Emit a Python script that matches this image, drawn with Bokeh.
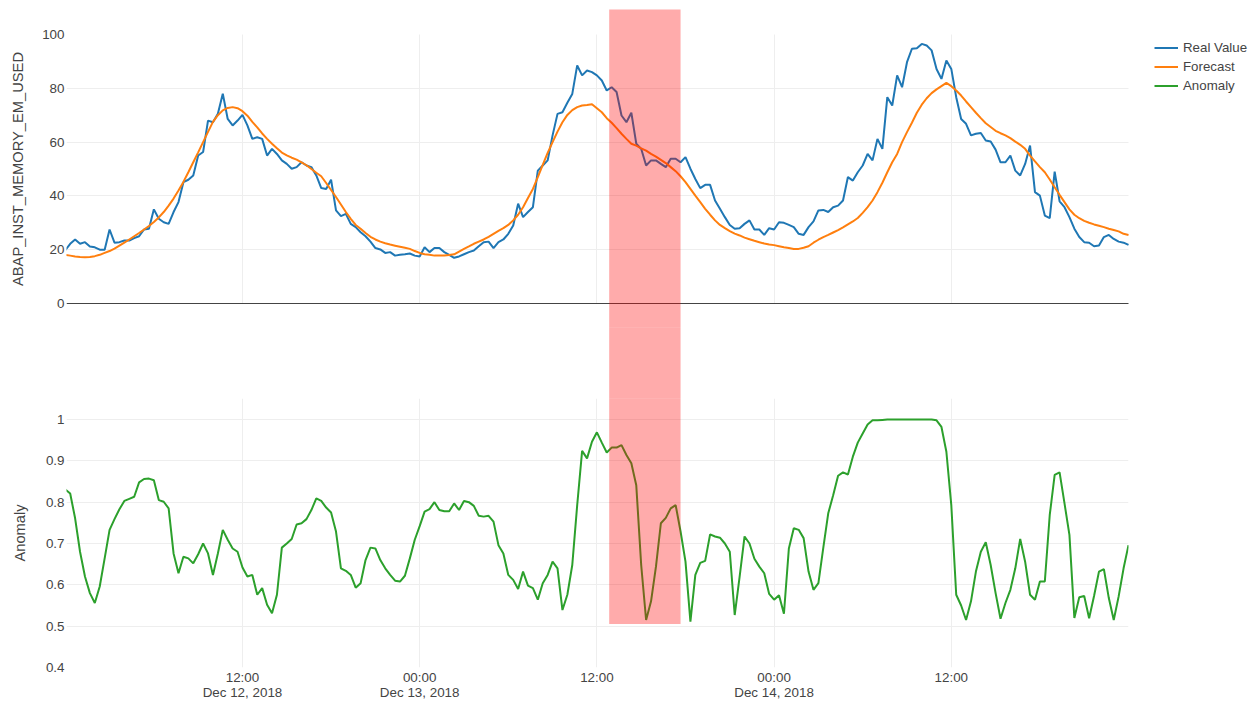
import pandas as pd
from bokeh.plotting import figure
from bokeh.models import (Range1d, FixedTicker, Legend, LegendItem, Grid)
from bokeh.layouts import column
from bokeh.embed import file_html
from bokeh.resources import INLINE

# ---------------- data ----------------
START = "2018-12-12 00:00"
STEP = "20min"

real_value = [
    19.8, 22.2, 23.8, 22.2, 22.8, 21.2, 20.9, 20.0, 20.0, 27.5,
    22.6, 22.8, 23.4, 23.4, 24.3, 25.0, 27.5, 27.8, 35.0, 31.5,
    30.2, 29.6, 34.0, 37.7, 45.1, 46.0, 47.6, 55.0, 56.3, 68.0,
    67.4, 70.5, 78.0, 68.6, 66.2, 68.0, 70.1, 66.2, 61.2, 61.8,
    61.2, 55.0, 57.5, 55.6, 53.2, 51.9, 50.1, 50.7, 52.5, 51.3,
    50.7, 47.6, 42.9, 42.6, 46.0, 34.6, 32.5, 33.3, 29.6, 28.4,
    26.5, 25.0, 23.0, 20.6, 20.1, 18.8, 19.1, 17.8, 18.1, 18.3,
    18.6, 17.8, 17.5,
    20.9, 19.1, 20.6, 20.6, 19.1, 18.1, 17.0, 17.5, 18.3, 19.1,
    19.7, 21.3, 22.8, 23.0, 20.6, 22.8, 23.8, 25.9, 29.0, 37.1,
    32.1, 34.0, 35.8, 49.4, 51.3, 53.2, 62.5, 70.5, 71.1, 74.6,
    77.9, 88.5, 84.8, 86.6, 86.0, 84.8, 82.9, 79.2, 80.4, 78.6,
    69.9, 67.4, 70.9, 59.4, 57.5, 51.3, 53.2, 53.2, 51.9, 50.7,
    53.8, 53.8, 52.5, 54.4, 50.1, 46.3, 42.9, 44.1, 44.1, 38.3,
    35.2, 32.1, 29.2, 27.8, 28.0, 29.6, 30.9, 27.5, 27.5, 25.5,
    28.0, 27.5,
    30.2, 30.0, 29.2, 28.4, 25.9, 25.5, 28.4, 30.5, 34.6, 34.8,
    34.0, 35.8, 36.4, 38.3, 47.0, 45.7, 48.8, 51.3, 55.6, 53.2,
    61.2, 57.5, 76.7, 73.6, 84.8, 80.4, 89.7, 94.7, 94.9, 96.5,
    95.9, 94.1, 87.2, 83.5, 90.3, 87.2, 76.7, 68.6, 66.8, 62.5,
    63.1, 63.4, 60.6, 60.2, 57.2, 52.5, 52.5, 55.0, 49.4, 47.6,
    51.9, 58.7, 41.4, 40.1, 32.7, 31.7, 49.0, 38.0, 35.8, 32.1,
    27.8, 24.7, 22.8, 22.6, 21.3, 21.6, 24.7, 25.5, 24.0, 23.0,
    22.6, 21.8,
]

forecast = [
    18.1, 17.8, 17.5, 17.3, 17.2, 17.3, 17.6, 18.1, 18.8, 19.5,
    20.4, 21.5, 22.6, 23.8, 25.0, 26.2, 27.5, 28.8, 30.3, 32.0,
    34.0, 36.4, 39.0, 42.0, 45.2, 48.8, 52.5, 56.2, 60.0, 63.8,
    67.5, 70.0, 71.8, 72.7, 73.0, 72.6, 71.5, 69.8, 67.5, 65.5,
    63.2, 61.2, 59.4, 57.7, 56.1, 55.1, 54.2, 53.5, 52.5, 51.4,
    50.0, 48.6, 47.3, 44.8, 42.2, 39.6, 36.8, 34.0, 31.5, 29.2,
    27.8, 26.2, 24.8, 23.8, 23.0, 22.4, 21.9, 21.5, 21.1, 20.7,
    20.3, 19.5, 18.8,
    18.3, 18.1, 17.8, 17.8, 17.8, 18.0, 18.3, 19.3, 20.3, 21.2,
    22.2, 23.0, 23.8, 24.8, 25.9, 27.0, 28.0, 29.2, 30.9, 33.0,
    35.8, 39.2, 42.6, 47.0, 51.5, 56.0, 60.0, 63.9, 67.4, 70.1,
    71.9, 73.0, 73.6, 73.8, 74.1, 72.6, 71.1, 68.9, 67.2, 65.2,
    63.1, 61.2, 59.4, 58.7, 57.7, 56.8, 55.6, 54.6, 53.4, 52.2,
    50.7, 49.2, 47.3, 45.1, 42.6, 40.1, 37.7, 35.2, 33.0, 30.9,
    29.2, 28.0, 26.9, 26.0, 25.3, 24.5, 23.9, 23.3, 22.8, 22.3,
    21.9, 21.7,
    21.3, 20.9, 20.6, 20.3, 20.3, 20.7, 21.3, 22.6, 23.7, 24.7,
    25.5, 26.4, 27.3, 28.3, 29.4, 30.5, 31.8, 33.7, 35.8, 38.3,
    41.4, 44.9, 48.8, 52.5, 55.6, 60.0, 63.7, 67.2, 70.9, 73.9,
    76.3, 78.2, 79.6, 80.8, 82.0, 80.8, 79.2, 77.3, 75.1, 73.0,
    70.9, 68.9, 67.0, 65.6, 64.2, 63.3, 62.5, 61.5, 60.2, 59.0,
    57.5, 55.0, 52.8, 50.7, 48.8, 46.1, 43.2, 40.4, 37.7, 35.0,
    33.0, 31.7, 30.7, 30.0, 29.4, 28.9, 28.4, 27.8, 27.3, 26.8,
    25.9, 25.5,
]

anomaly = [
    0.831, 0.821, 0.761, 0.680, 0.620, 0.580, 0.556, 0.596, 0.664, 0.733,
    0.759, 0.783, 0.803, 0.808, 0.813, 0.848, 0.856, 0.857, 0.853, 0.805,
    0.801, 0.785, 0.676, 0.628, 0.668, 0.664, 0.652, 0.674, 0.700, 0.676,
    0.624, 0.676, 0.733, 0.709, 0.688, 0.680, 0.642, 0.620, 0.624, 0.576,
    0.592, 0.552, 0.531, 0.576, 0.690, 0.700, 0.711, 0.746, 0.749, 0.759,
    0.781, 0.809, 0.803, 0.787, 0.775, 0.729, 0.640, 0.634, 0.624, 0.593,
    0.604, 0.660, 0.690, 0.688, 0.660, 0.640, 0.624, 0.610, 0.608, 0.622,
    0.664, 0.709, 0.742,
    0.777, 0.783, 0.800, 0.781, 0.778, 0.778, 0.797, 0.781, 0.803, 0.800,
    0.791, 0.767, 0.765, 0.767, 0.753, 0.696, 0.676, 0.624, 0.612, 0.590,
    0.632, 0.598, 0.592, 0.564, 0.604, 0.624, 0.656, 0.640, 0.539, 0.576,
    0.648, 0.793, 0.924, 0.906, 0.946, 0.969, 0.944, 0.920, 0.932, 0.932,
    0.938, 0.914, 0.894, 0.841, 0.648, 0.515, 0.560, 0.644, 0.749, 0.762,
    0.785, 0.793, 0.729, 0.656, 0.511, 0.624, 0.653, 0.658, 0.722, 0.717,
    0.714, 0.700, 0.680, 0.527, 0.620, 0.717, 0.700, 0.663, 0.644, 0.628,
    0.578, 0.564,
    0.575, 0.530, 0.688, 0.737, 0.733, 0.713, 0.632, 0.588, 0.604, 0.690,
    0.773, 0.817, 0.864, 0.872, 0.867, 0.910, 0.944, 0.966, 0.988, 0.998,
    0.998, 0.999, 1.0, 1.0, 1.0, 1.0, 1.0, 1.0, 1.0, 1.0,
    1.0, 1.0, 0.998, 0.982, 0.922, 0.793, 0.576, 0.550, 0.515, 0.560,
    0.632, 0.680, 0.703, 0.648, 0.580, 0.518, 0.556, 0.588, 0.640, 0.711,
    0.656, 0.576, 0.564, 0.608, 0.608, 0.769, 0.866, 0.872, 0.797, 0.721,
    0.520, 0.570, 0.573, 0.519, 0.573, 0.632, 0.638, 0.568, 0.515, 0.572,
    0.640, 0.696,
]

TICK_TIMES = ["2018-12-12 12:00", "2018-12-13 00:00", "2018-12-13 12:00",
              "2018-12-14 00:00", "2018-12-14 12:00"]
TICK_LABELS = ["12:00\nDec 12, 2018", "00:00\nDec 13, 2018", "12:00",
               "00:00\nDec 14, 2018", "12:00"]
X_START = "2018-12-12 00:05"
X_END = "2018-12-15 00:00"

TOP_TICKS = [0, 20, 40, 60, 80, 100]
BOTTOM_TICKS = [0.4, 0.5, 0.6, 0.7, 0.8, 0.9, 1.0]
BOTTOM_LABELS = ["0.4", "0.5", "0.6", "0.7", "0.8", "0.9", "1"]

ANOMALY_START = "2018-12-13 12:50"
ANOMALY_END = "2018-12-13 17:40"
ANOMALY_FLOOR = 0.505

SERIES_NAMES = ["Real Value", "Forecast", "Anomaly"]
COLORS = ["#1f77b4", "#ff7f0e", "#2ca02c"]
Y_TITLE_TOP = "ABAP_INST_MEMORY_EM_USED"
Y_TITLE_BOTTOM = "Anomaly"

# ---------------- style / layout ----------------
FONT = "Liberation Sans"
TXT = "#444444"
GRID = "#eeeeee"
TICK_FS = "13.4px"
TITLE_FS = "14.7px"
BAND = dict(fill_color="#ff0000", fill_alpha=0.33, line_color=None)

LEFT = 66          # left border (axis area)
PLOT_W = 1062      # data area width
RIGHT = 124        # legend area width
TOP_BORDER = 9
TOP_FRAME_H = 319
GAP_H = 72         # overlaps its neighbours by 1px on each side
BOT_FRAME_H = 269
OVERLAP = 1


def ms(t):
    return pd.Timestamp(t).value / 1e6


times = pd.date_range(START, periods=len(real_value), freq=STEP)
tick_ms = [ms(t) for t in TICK_TIMES]
x0, x1 = ms(X_START), ms(X_END)
band_l, band_r = ms(ANOMALY_START), ms(ANOMALY_END)
x_range = Range1d(start=x0, end=x1)
# the top panel's frame also covers the legend column on the right
top_x_range = Range1d(start=x0, end=x0 + (x1 - x0) * (PLOT_W + RIGHT) / PLOT_W)


def style_common(p):
    p.outline_line_color = None
    p.background_fill_color = "white"
    p.border_fill_color = "white"
    for ax in list(p.yaxis) + list(p.xaxis):
        ax.axis_line_color = None
        ax.major_tick_line_color = None
        ax.minor_tick_line_color = None
        ax.major_tick_out = 0
        ax.major_tick_in = 0
        ax.minor_tick_out = 0
        ax.minor_tick_in = 0
        ax.major_label_standoff = 2
        ax.major_label_text_font = FONT
        ax.major_label_text_font_size = TICK_FS
        ax.major_label_text_color = TXT
        ax.axis_label_text_font = FONT
        ax.axis_label_text_font_size = TITLE_FS
        ax.axis_label_text_font_style = "normal"
        ax.axis_label_text_color = TXT


def bounded_grid(p, dim, ticks, color, bounds, axis):
    g = Grid(dimension=dim, axis=axis, ticker=FixedTicker(ticks=ticks),
             grid_line_color=color, grid_line_width=1)
    try:
        g.cross_bounds = bounds
        p.add_layout(g)
    except Exception:
        n = len(ticks)
        if dim == 0:
            p.segment(x0=ticks, y0=[bounds[0]] * n, x1=ticks, y1=[bounds[1]] * n,
                      line_color=color, line_width=1, level="underlay")
        else:
            p.segment(x0=[bounds[0]] * n, y0=ticks, x1=[bounds[1]] * n, y1=ticks,
                      line_color=color, line_width=1, level="underlay")


def band(p, lo=None):
    """Anomaly window as a glyph that fills the frame (clipped to it)."""
    yr = p.y_range
    span = yr.end - yr.start
    bottom_val = (yr.start - span) if lo is None else lo
    p.quad(left=[band_l], right=[band_r], bottom=[bottom_val],
           top=[yr.end + span], **BAND)


# ---------------- top panel ----------------
px_per_unit = 269 / (TOP_TICKS[-1] - TOP_TICKS[0])
top = figure(x_axis_type="datetime", x_axis_location=None,
             x_range=top_x_range,
             y_range=Range1d(-25 / px_per_unit, TOP_TICKS[-1] + 25 / px_per_unit),
             frame_width=PLOT_W + RIGHT, frame_height=TOP_FRAME_H,
             min_border_left=LEFT, min_border_right=0,
             min_border_top=TOP_BORDER, min_border_bottom=0,
             output_backend="svg", toolbar_location=None)
style_common(top)
top.xgrid.visible = False
top.ygrid.visible = False
top.yaxis.ticker = FixedTicker(ticks=TOP_TICKS)
top.yaxis.axis_label = Y_TITLE_TOP
top.yaxis.axis_label_standoff = 13
yax_top = top.yaxis[0]
bounded_grid(top, 0, tick_ms, GRID, (TOP_TICKS[0], TOP_TICKS[-1]), yax_top)
bounded_grid(top, 1, TOP_TICKS[1:-1], GRID, (x0, x1), yax_top)
bounded_grid(top, 1, TOP_TICKS[:1], TXT, (x0, x1), yax_top)

r_real = top.line(times, real_value, line_color=COLORS[0], line_width=2)
r_fc = top.line(times, forecast, line_color=COLORS[1], line_width=2)
# legend-only stand-in for the anomaly series (drawn in the lower panel)
r_an_proxy = top.line(times, anomaly, line_color=COLORS[2], line_width=2,
                      visible=False)
band(top)

legend = Legend(items=[LegendItem(label=SERIES_NAMES[0], renderers=[r_real]),
                       LegendItem(label=SERIES_NAMES[1], renderers=[r_fc]),
                       LegendItem(label=SERIES_NAMES[2], renderers=[r_an_proxy])],
                location=(PLOT_W + 26, TOP_FRAME_H + TOP_BORDER - 37.5 - 57),
                margin=0, padding=0, spacing=0,
                glyph_width=24, glyph_height=19, label_height=19,
                label_standoff=5, label_text_font=FONT,
                label_text_font_size="13.3px", label_text_color=TXT,
                border_line_color=None, background_fill_alpha=0,
                inactive_fill_alpha=0)
top.add_layout(legend)

# ---------------- gap between panels (band continues through it) ----------------
gap = figure(x_axis_type="datetime", x_axis_location=None, y_axis_location=None,
             x_range=x_range, y_range=Range1d(0, 1),
             frame_width=PLOT_W, frame_height=GAP_H,
             min_border_left=LEFT, min_border_right=RIGHT,
             min_border_top=0, min_border_bottom=0,
             margin=(-OVERLAP, 0, 0, 0),
             output_backend="svg", toolbar_location=None)
gap.outline_line_color = None
gap.xgrid.visible = False
gap.ygrid.visible = False
band(gap)

# ---------------- bottom panel ----------------
bottom = figure(x_axis_type="datetime", x_range=x_range,
                y_range=Range1d(BOTTOM_TICKS[0], BOTTOM_TICKS[-1] + 21 / 413.3),
                frame_width=PLOT_W, frame_height=BOT_FRAME_H,
                min_border_left=LEFT, min_border_right=RIGHT,
                min_border_top=0, min_border_bottom=0,
                margin=(-OVERLAP, 0, 0, 0),
                output_backend="svg", toolbar_location=None)
style_common(bottom)
bottom.line(times, anomaly, line_color=COLORS[2], line_width=2)
band(bottom, lo=ANOMALY_FLOOR)

bottom.yaxis.ticker = FixedTicker(ticks=BOTTOM_TICKS)
bottom.yaxis.major_label_overrides = dict(zip(BOTTOM_TICKS, BOTTOM_LABELS))
bottom.yaxis.axis_label = Y_TITLE_BOTTOM
bottom.yaxis.axis_label_standoff = 15
bottom.ygrid.ticker = FixedTicker(ticks=BOTTOM_TICKS[1:])
bottom.ygrid.grid_line_color = GRID
bottom.xgrid.ticker = FixedTicker(ticks=tick_ms)
bottom.xgrid.grid_line_color = GRID

xa = bottom.xaxis[0]
xa.ticker = FixedTicker(ticks=tick_ms)
xa.major_label_overrides = dict(zip(tick_ms, TICK_LABELS))
xa.major_label_text_line_height = 1.02

layout = column(top, gap, bottom, spacing=0)

open("out.html", "w").write(file_html(layout, INLINE, title="Anomaly"))
